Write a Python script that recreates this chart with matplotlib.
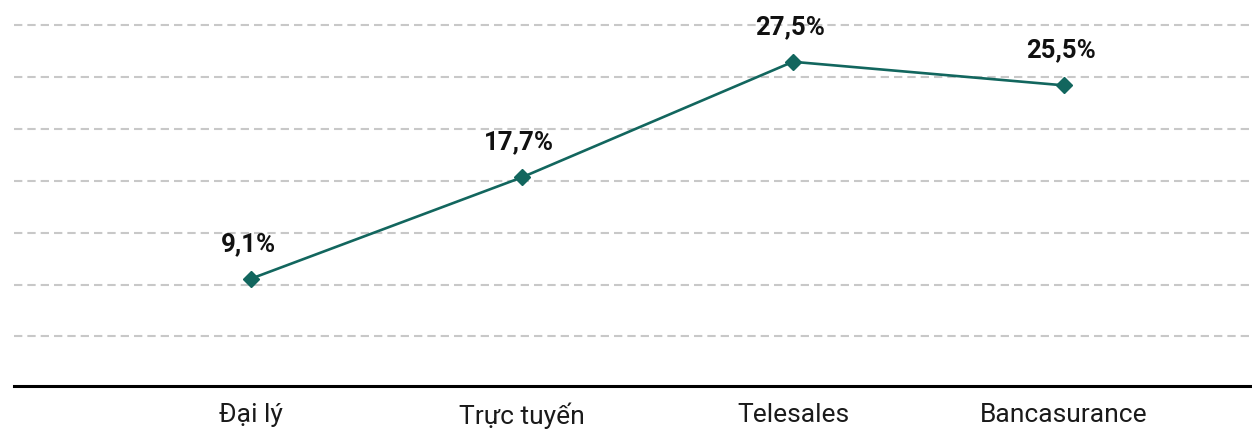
import matplotlib
matplotlib.use("Agg")
import matplotlib.pyplot as plt

categories = ["Đại lý", "Trực tuyến", "Telesales", "Bancasurance"]
values = [9.1, 17.7, 27.5, 25.5]
labels = ["9,1%", "17,7%", "27,5%", "25,5%"]
grid_levels = [4.2, 8.6, 13.0, 17.4, 21.8, 26.2, 30.6]

LINE_COLOR = "#12665e"

fig = plt.figure(figsize=(12.52, 4.30), dpi=100)
ax = fig.add_axes([14 / 1252, 44 / 430, 1 - 14 / 1252, 386 / 430])

x = list(range(len(categories)))

for g in grid_levels:
    ax.axhline(g, color="#c8c8c8", linewidth=1.5, linestyle=(0, (4.0, 2.4)), zorder=1)

ax.plot(x, values, color=LINE_COLOR, linewidth=1.9, marker="D", markersize=8.5,
        markerfacecolor=LINE_COLOR, markeredgecolor=LINE_COLOR, zorder=3)

for xi, v, lab in zip(x, values, labels):
    ax.annotate(lab, (xi, v), xytext=(-2, 20), textcoords="offset points",
                ha="center", va="baseline", fontsize=18.5, fontweight="bold",
                family="Roboto", color="#111111", zorder=4)

ax.set_xlim(-0.8745, 3.694)
ax.set_ylim(0, 32.74)
ax.set_xticks(x)
ax.set_xticklabels(categories, fontsize=19, family="Roboto", color="#1a1a1a")
ax.tick_params(axis="x", length=0, pad=12)
ax.set_yticks([])

for s in ["top", "right", "left"]:
    ax.spines[s].set_visible(False)
ax.spines["bottom"].set_color("#000000")
ax.spines["bottom"].set_linewidth(2.2)
ax.patch.set_alpha(0)

fig.savefig("out.png", dpi=100)
